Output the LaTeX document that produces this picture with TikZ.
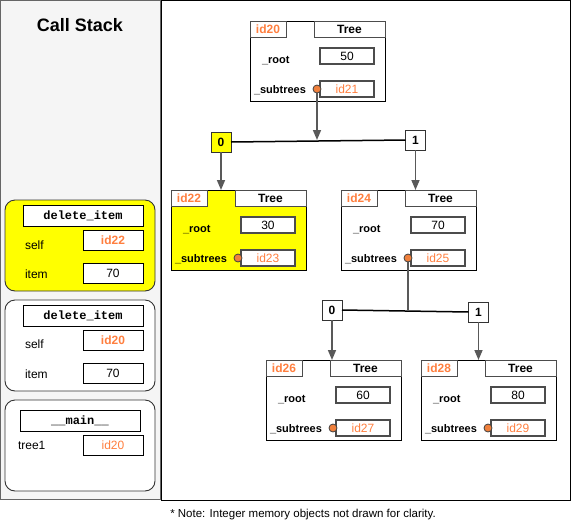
\documentclass[tikz,border=0pt]{standalone}
\usepackage{fontspec}
\setmainfont{Liberation Sans}
\setmonofont{Liberation Mono}
\usetikzlibrary{arrows.meta}
\definecolor{idor}{HTML}{FF7F3F}
\definecolor{dotor}{HTML}{F0803C}
\definecolor{panelgray}{HTML}{F5F5F5}
\definecolor{conn}{HTML}{595959}
\definecolor{hiyel}{HTML}{FFFF00}
\tikzset{
  base/.style={inner sep=0pt, outer sep=0pt},
  objbox/.style={base, draw=black, line width=0.9pt, minimum width=135pt, minimum height=80pt},
  idtab/.style={base, draw=black!70, line width=1pt, fill=white, minimum width=36pt, minimum height=16pt, text=idor, font=\fontsize{12}{14}\selectfont\bfseries},
  clstab/.style={base, draw=black!70, line width=1pt, fill=white, minimum width=71pt, minimum height=16pt, font=\fontsize{12}{14}\selectfont\bfseries},
  valbox/.style={base, draw=black!70, line width=1.2pt, fill=white, minimum width=54pt, minimum height=16pt, font=\fontsize{12}{14}\selectfont},
  fieldlbl/.style={base, font=\fontsize{11}{13}\selectfont\bfseries},
  dotst/.style={base, circle, draw=black!75, line width=0.8pt, fill=dotor, minimum size=8pt},
  frame/.style={base, draw=black!80, line width=0.9pt, rounded corners=10pt, minimum width=150pt, minimum height=91pt},
  hdrbox/.style={base, draw=black, line width=0.9pt, fill=white, minimum width=120pt, minimum height=21pt, font=\fontsize{12}{14}\selectfont\ttfamily\bfseries},
  fvbox/.style={base, draw=black, line width=0.9pt, fill=white, minimum width=60pt, minimum height=20pt, font=\fontsize{12}{14}\selectfont},
  flbl/.style={base, anchor=west, font=\fontsize{12}{14}\selectfont},
  brbox/.style={base, draw=black!80, line width=1pt, fill=white, minimum width=20pt, minimum height=20pt, font=\fontsize{12}{14}\selectfont\bfseries},
  arr/.style={draw=conn, line width=1.6pt, -{Triangle[length=10pt,width=8pt]}},
  ln/.style={draw=conn, line width=1.6pt},
  hln/.style={draw=black, line width=1.5pt}
}
\newcommand\TreeObj[7]{%
  \node[objbox, fill=#7, anchor=north west] (#1) at (#2,#3) {};
  \node[idtab, anchor=north west] (#1-id) at (#2,#3) {#4};
  \node[clstab, anchor=north east] (#1-cls) at ({#2+135},#3) {Tree};
  \node[valbox, anchor=north west] (#1-root) at ({#2+70},{#3+27}) {#5};
  \node[valbox, anchor=north west, text=idor] (#1-sub) at ({#2+70},{#3+60}) {#6};
  \node[fieldlbl, anchor=west] (#1-rl) at ({#2+12},{#3+40}) {\_root};
  \node[fieldlbl, anchor=west] (#1-sl) at ({#2+4},{#3+69}) {\_subtrees};
  \node[dotst] (#1-dot) at ({#2+67},{#3+68}) {};
}
\begin{document}
\begin{tikzpicture}[x=1pt,y=-1pt]
\useasboundingbox (0,0) rectangle (571,531);
% panels
\node[base, draw=black!60, line width=1pt, fill=panelgray, minimum width=160pt, minimum height=499pt, anchor=north west] (left) at (0.5,0.5) {};
\node[base, draw=black, line width=1pt, fill=white, minimum width=409pt, minimum height=500pt, anchor=north west] (right) at (161,0.5) {};
\node[base, font=\fontsize{18}{20}\selectfont\bfseries] (title) at (80,25) {Call Stack};
\node[base, font=\fontsize{11.5}{13}\selectfont] (note) at (303,515) {* Note: Integer memory objects not drawn for clarity.};

% frames
\node[frame, fill=hiyel, anchor=north west] (f1) at (5,200) {};
\node[hdrbox, anchor=north west] (f1h) at (23,205) {delete\_item};
\node[flbl] (f1s) at (25,245) {self};
\node[fvbox, anchor=north west, text=idor, font=\fontsize{12}{14}\selectfont\bfseries] (f1sv) at (83,230) {id22};
\node[flbl] (f1i) at (25,274) {item};
\node[fvbox, anchor=north west] (f1iv) at (83,263) {70};

\node[frame, fill=white, anchor=north west] (f2) at (5,300) {};
\node[hdrbox, anchor=north west] (f2h) at (23,305) {delete\_item};
\node[flbl] (f2s) at (25,344) {self};
\node[fvbox, anchor=north west, text=idor, font=\fontsize{12}{14}\selectfont\bfseries] (f2sv) at (83,330) {id20};
\node[flbl] (f2i) at (25,374) {item};
\node[fvbox, anchor=north west] (f2iv) at (83,363) {70};

\node[frame, fill=white, anchor=north west] (f3) at (5,400) {};
\node[hdrbox, anchor=north west] (f3h) at (20,410) {\_\_main\_\_};
\node[flbl] (f3t) at (18,445) {tree1};
\node[fvbox, anchor=north west, text=idor] (f3tv) at (83,435) {id20};

% tree objects
\TreeObj{o20}{250}{21}{id20}{50}{id21}{white}
\TreeObj{o22}{171}{190}{id22}{30}{id23}{hiyel}
\TreeObj{o24}{341}{190}{id24}{70}{id25}{white}
\TreeObj{o26}{266}{360}{id26}{60}{id27}{white}
\TreeObj{o28}{421}{360}{id28}{80}{id29}{white}

% branch boxes
\node[brbox, fill=hiyel] (a0) at (221,142) {0};
\node[brbox] (a1) at (415.5,140) {1};
\node[brbox] (c0) at (332,310) {0};
\node[brbox] (c1) at (478.5,312) {1};
\coordinate (j1) at (317,140);
\coordinate (j2) at (408,311);

% connectors
\draw[hln] (a0.east) -- (a1.west);
\draw[hln] (c0.east) -- (c1.west);
\draw[arr] (o20-dot.south) -- (j1);
\draw[arr] (a0.south) -- (a0.south |- o22.north);
\draw[arr] (a1.south) -- (a1.south |- o24.north);
\draw[ln] (o24-dot.south) -- (j2);
\draw[arr] (c0.south) -- (c0.south |- o26.north);
\draw[arr] (c1.south) -- (c1.south |- o28.north);
\end{tikzpicture}
\end{document}
